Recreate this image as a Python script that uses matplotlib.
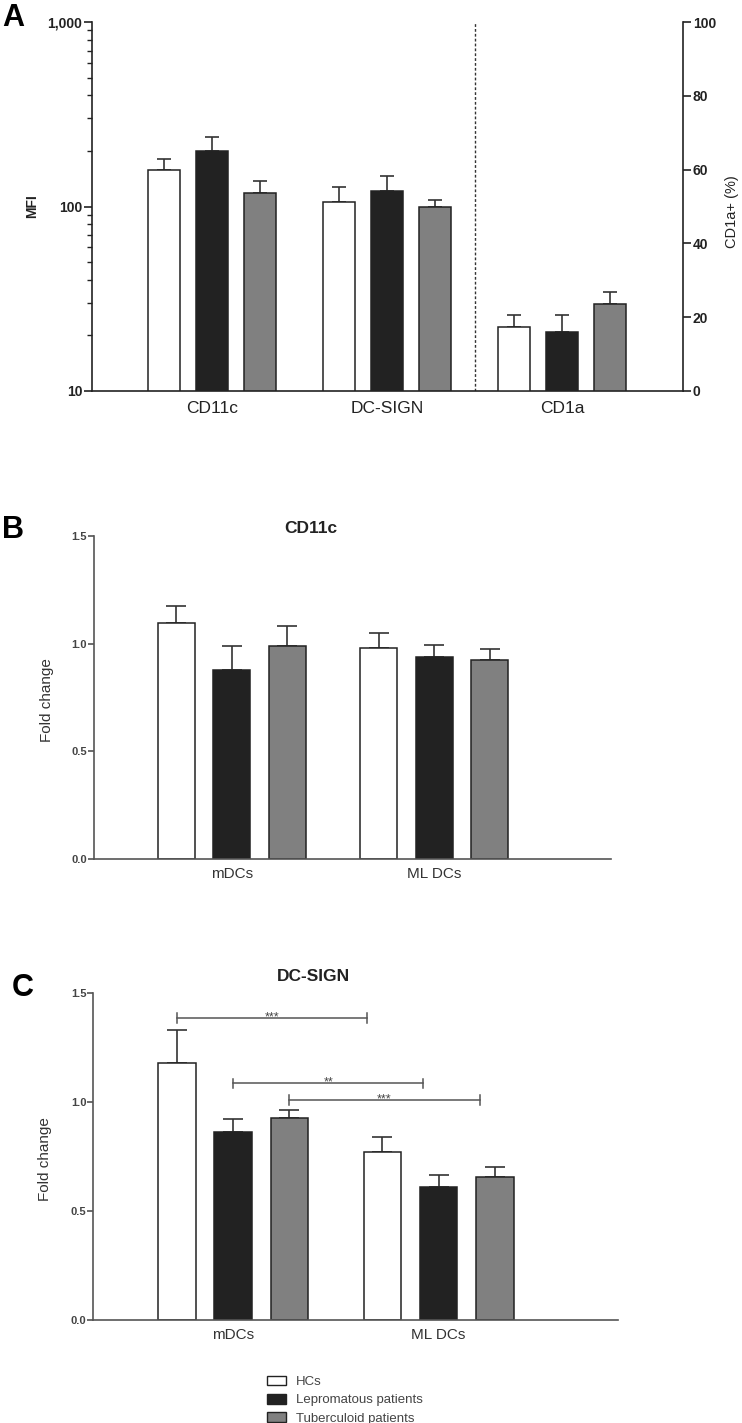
import numpy as np
import matplotlib
matplotlib.use('Agg')
import matplotlib.pyplot as plt
from matplotlib.patches import Patch
from matplotlib.ticker import FixedLocator, NullFormatter, LogLocator

plt.rcParams['font.family'] = ['Liberation Sans', 'DejaVu Sans']

grupos = ['HCs', 'Lepromatous patients', 'Tuberculoid patients']
colores = ['white', '#222222', '#808080']

# Panel A: MFI (eje log) y % CD1a+ (eje derecho)
marcadores_mfi = ['CD11c', 'DC-SIGN']
mfi_hc = [158, 106]
mfi_hc_err = [22, 21]
mfi_lep = [201, 121]
mfi_lep_err = [36, 26]
mfi_tub = [118, 100]
mfi_tub_err = [20, 9]

marcador_pct = 'CD1a'
cd1a_pct = [17.4, 15.9, 23.6]
cd1a_err = [3.2, 4.6, 3.3]

# Panel B: CD11c fold change
tipos_dc = ['mDCs', 'ML DCs']
cd11c_hc = [1.096, 0.978]
cd11c_hc_err = [0.079, 0.071]
cd11c_lep = [0.877, 0.938]
cd11c_lep_err = [0.113, 0.055]
cd11c_tub = [0.990, 0.924]
cd11c_tub_err = [0.090, 0.049]

# Panel C: DC-SIGN fold change
dcsign_hc = [1.179, 0.772]
dcsign_hc_err = [0.150, 0.065]
dcsign_lep = [0.862, 0.609]
dcsign_lep_err = [0.060, 0.055]
dcsign_tub = [0.925, 0.655]
dcsign_tub_err = [0.037, 0.045]

# comparaciones mDCs vs ML DCs (serie, estrellas, altura)
comp_serie = [0, 1, 2]
comp_texto = ['***', '**', '***']
comp_altura = [1.383, 1.084, 1.008]

desplaz = 0.274
ancho = 0.183
borde = '#222222'


def barras(ax, pos, series, errores, cap):
    for i, (vals, errs) in enumerate(zip(series, errores)):
        x = np.asarray(pos, dtype=float) + (i - 1) * desplaz
        ax.bar(x, vals, ancho, color=colores[i], edgecolor=borde, linewidth=1.1, zorder=2)
        ax.errorbar(x, vals, yerr=[np.zeros(len(vals)), errs], fmt='none',
                    ecolor='#333333', elinewidth=1.2, capsize=cap, capthick=1.2, zorder=1)


fig = plt.figure(figsize=(7.42, 14.23), dpi=100)

# ---------------- A ----------------
axA = fig.add_axes([92/742, 1-391/1423, 591/742, 369/1423])
axA.set_yscale('log')
barras(axA, [0, 1], [mfi_hc, mfi_lep, mfi_tub], [mfi_hc_err, mfi_lep_err, mfi_tub_err], 5)
axA.set_ylim(10, 1000)
axA.set_xlim(-0.686, 2.69)
axA.yaxis.set_major_locator(FixedLocator([10, 100, 1000]))
axA.set_yticklabels(['10', '100', '1,000'])
axA.yaxis.set_minor_locator(LogLocator(base=10, subs=np.arange(2, 10)))
axA.yaxis.set_minor_formatter(NullFormatter())
axA.tick_params(axis='y', which='major', length=6, width=1.2, pad=1, labelsize=10, colors='#222222')
axA.tick_params(axis='y', which='minor', length=3.5, width=1.0, colors='#222222')
for lab in axA.get_yticklabels():
    lab.set_fontweight('bold')
axA.set_xticks([0, 1, 2])
axA.set_xticklabels(marcadores_mfi + [marcador_pct], fontsize=12.5, color='#222222')
axA.tick_params(axis='x', length=0, pad=7)
for s in ['top', 'right']:
    axA.spines[s].set_visible(False)
for s in ['left', 'bottom']:
    axA.spines[s].set_linewidth(1.2)
    axA.spines[s].set_color('#222222')
axA.axvline(1.5, color='#333333', linestyle=(0, (2, 1.5)), linewidth=1.0)
fig.text(32/742, 1-206/1423, 'MFI', rotation=90, ha='center', va='center',
         fontsize=10, fontweight='bold', color='#222222')

axA2 = axA.twinx()
axA2.set_ylim(0, 100)
barras(axA2, [2], [[cd1a_pct[0]], [cd1a_pct[1]], [cd1a_pct[2]]],
       [[cd1a_err[0]], [cd1a_err[1]], [cd1a_err[2]]], 5)
axA2.set_xlim(-0.686, 2.69)
axA2.set_yticks([0, 20, 40, 60, 80, 100])
axA2.tick_params(axis='y', length=6, width=1.2, pad=1, labelsize=10, colors='#222222')
for lab in axA2.get_yticklabels():
    lab.set_fontweight('bold')
for s in ['top', 'left', 'bottom']:
    axA2.spines[s].set_visible(False)
axA2.spines['right'].set_linewidth(1.2)
axA2.spines['right'].set_color('#222222')
fig.text(732/742, 1-212/1423, 'CD1a+ (%)', rotation=90, ha='center', va='center',
         fontsize=10.5, color='#222222')

fig.text(0.003, 1-3/1423, 'A', fontsize=22, fontweight='bold', va='top', ha='left')


def panel_fold(rect, series, errores, titulo, titulo_y, ylab_x, ylab_y):
    ax = fig.add_axes(rect)
    barras(ax, [0, 1], series, errores, 7)
    ax.set_ylim(0, 1.5)
    ax.set_xlim(-0.681, 1.873)
    ax.set_yticks([0.0, 0.5, 1.0, 1.5])
    ax.set_yticklabels(['0.0', '0.5', '1.0', '1.5'])
    ax.tick_params(axis='y', length=4, width=1.1, pad=1, labelsize=8, colors='#444444')
    for lab in ax.get_yticklabels():
        lab.set_fontweight('bold')
    ax.set_xticks([0, 1])
    ax.set_xticklabels(tipos_dc, fontsize=11, color='#333333')
    ax.tick_params(axis='x', length=0, pad=6)
    for s in ['top', 'right']:
        ax.spines[s].set_visible(False)
    for s in ['left', 'bottom']:
        ax.spines[s].set_linewidth(1.2)
        ax.spines[s].set_color('#555555')
    fig.text(ylab_x / 742, 1 - ylab_y / 1423, 'Fold change', rotation=90, ha='center',
             va='center', fontsize=11, color='#333333')
    ax.text(0.42, titulo_y, titulo, transform=ax.transAxes, ha='center', va='center',
            fontsize=12.5, fontweight='bold', color='#222222')
    return ax


axB = panel_fold([94/742, 1-859/1423, 517/742, 323/1423],
                 [cd11c_hc, cd11c_lep, cd11c_tub],
                 [cd11c_hc_err, cd11c_lep_err, cd11c_tub_err], 'CD11c', 1.022, 47, 700)
fig.text(0.003, 1-530/1423, 'B', fontsize=22, fontweight='bold', va='center', ha='left')

axC = panel_fold([93.3/742, 1-1320/1423, 524.7/742, 327.3/1423],
                 [dcsign_hc, dcsign_lep, dcsign_tub],
                 [dcsign_hc_err, dcsign_lep_err, dcsign_tub_err], 'DC-SIGN', 1.051, 45, 1159)
fig.text(12/742, 1-988/1423, 'C', fontsize=22, fontweight='bold', va='center', ha='left')

# barras de significancia
for serie, txt, h in zip(comp_serie, comp_texto, comp_altura):
    x1 = (serie - 1) * desplaz
    x2 = 1 + (serie - 1) * desplaz - 0.075
    axC.plot([x1, x2], [h, h], color='#555555', linewidth=1.1, zorder=3)
    for xe in (x1, x2):
        axC.plot([xe, xe], [h - 0.022, h + 0.022], color='#555555', linewidth=1.1, zorder=3)
    axC.annotate(txt, xy=((x1 + x2) / 2, h), xytext=(0, -1.5), textcoords='offset points',
                 ha='center', va='baseline', fontsize=9, color='#444444')

handles = [Patch(facecolor=c, edgecolor=borde, linewidth=1.0) for c in colores]
fig.legend(handles, grupos, loc='upper left', bbox_to_anchor=(260/742, 1-1369/1423),
           frameon=False, fontsize=9.5, handlelength=1.5, handleheight=0.75,
           handletextpad=0.7, labelspacing=0.45, borderpad=0, labelcolor='#444444')

fig.savefig('out.png', dpi=100)
